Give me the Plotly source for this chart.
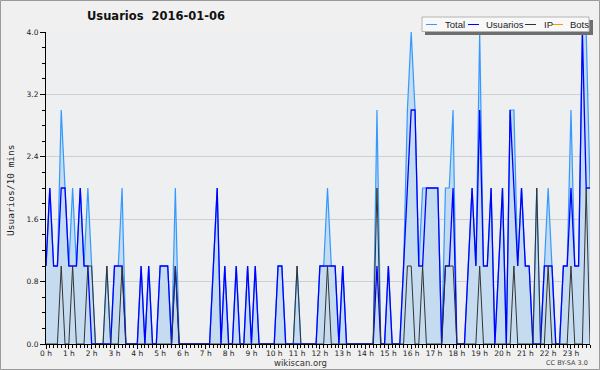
import plotly.graph_objects as go

# 10-minute slots, 2016-01-06 (144 slots)
usuarios = [1,2,1,1,2,2,1,1,1,2,1,1,0,0,0,0,0,0,1,1,1,0,0,0,
            0,1,0,1,0,0,1,1,1,0,1,0,0,0,0,0,0,0,0,0,1,2,0,1,
            0,0,1,0,0,1,0,1,0,0,0,0,0,1,1,0,0,0,0,0,0,0,0,0,
            1,1,1,1,1,0,1,0,0,0,0,0,0,0,0,1,0,0,1,0,0,0,1,2,
            3,3,1,1,2,2,2,2,0,1,1,2,0,0,0,1,2,1,3,1,1,2,0,1,
            2,0,3,2,1,2,1,1,0,0,0,1,1,1,0,0,1,1,2,1,1,4,2,2]
ip =       [0,0,0,0,1,0,0,1,0,0,0,1,1,0,0,0,1,0,0,0,1,0,0,0,
            0,0,0,0,0,0,0,0,0,0,1,0,0,0,0,0,0,0,0,0,0,0,0,0,
            0,0,0,0,0,0,0,0,0,0,0,0,0,0,0,0,0,0,1,0,0,0,0,0,
            0,0,1,0,0,0,0,0,0,0,0,0,0,0,0,2,0,0,0,0,0,0,0,1,
            1,0,0,1,0,0,0,0,0,1,1,1,0,0,0,0,0,0,1,0,0,0,0,0,
            0,0,0,1,0,0,0,0,0,2,0,0,1,0,0,0,0,0,1,0,0,0,2,0]
bots = [0]*144
total = [u + p + b for u, p, b in zip(usuarios, ip, bots)]
slot_hours = [i / 6 for i in range(144)]
hour_ticks = list(range(24))
hour_labels = [f"{h} h" for h in hour_ticks]
y_ticks = [0.0, 0.8, 1.6, 2.4, 3.2, 4.0]
y_labels = ["0.0", "0.8", "1.6", "2.4", "3.2", "4.0"]

W, H = 600, 370
L, R, T, B = 46, 10, 32, 26
PW, PH = W - L - R, H - T - B

def px(x):
    return (x - L) / PW

def py(y):
    return (H - B - y) / PH

fig = go.Figure()
fig.add_trace(go.Scatter(x=slot_hours, y=bots, mode="lines", name="Bots",
                         line=dict(color="#ff9900", width=1), showlegend=False))
fig.add_trace(go.Scatter(x=slot_hours, y=total, mode="lines", name="Total",
                         fill="tozeroy", fillcolor="#c5dcf0",
                         line=dict(color="#3399ff", width=1.2), showlegend=False))
fig.add_trace(go.Scatter(x=slot_hours, y=usuarios, mode="lines", name="Usuarios",
                         line=dict(color="#0000ff", width=1.3), showlegend=False))
fig.add_trace(go.Scatter(x=slot_hours, y=ip, mode="lines", name="IP",
                         line=dict(color="#333333", width=1), showlegend=False))

shapes = []
# outer frame
shapes.append(dict(type="rect", xref="paper", yref="paper",
                   x0=px(0.5), x1=px(599.5), y0=py(0.5), y1=py(369.5),
                   line=dict(color="#9a9a9a", width=1), layer="above"))
# legend shadow and box
shapes.append(dict(type="rect", xref="paper", yref="paper",
                   x0=px(425), x1=px(593), y0=py(20), y1=py(35),
                   fillcolor="#6e6e6e", line=dict(width=0), layer="above"))
shapes.append(dict(type="rect", xref="paper", yref="paper",
                   x0=px(422), x1=px(589), y0=py(17), y1=py(31.5),
                   fillcolor="#f8f8f8", line=dict(color="#b4b4b4", width=1), layer="above"))
annotations = []
legend_items = [("Total", "#3399ff", 426, 443), ("Usuarios", "#0000ff", 468, 484),
                ("IP", "#333333", 525, 542), ("Bots", "#ff9900", 552, 568)]
for name, col, lx, tx in legend_items:
    shapes.append(dict(type="line", xref="paper", yref="paper",
                       x0=px(lx), x1=px(lx + 11), y0=py(24.5), y1=py(24.5),
                       line=dict(color=col, width=1), layer="above"))
    annotations.append(dict(text=name, xref="paper", yref="paper", x=px(tx), y=py(24.5),
                            xanchor="left", yanchor="middle", showarrow=False,
                            font=dict(family="Liberation Sans, Arial", size=9.5, color="#222")))

annotations.append(dict(text="<b>Usuarios  2016-01-06</b>", xref="paper", yref="paper",
                        x=px(85), y=py(16), xanchor="left", yanchor="middle", showarrow=False,
                        font=dict(family="DejaVu Sans", size=11.5, color="#111")))
annotations.append(dict(text="Usuarios/10 mins", xref="paper", yref="paper",
                        x=px(10), y=py(190), xanchor="center", yanchor="middle", textangle=-90,
                        showarrow=False, font=dict(family="DejaVu Sans Mono", size=9.5, color="#222")))
annotations.append(dict(text="wikiscan.org", xref="paper", yref="paper",
                        x=px(300), y=py(363), xanchor="center", yanchor="middle", showarrow=False,
                        font=dict(family="DejaVu Sans", size=8.5, color="#333")))
annotations.append(dict(text="CC BY-SA 3.0", xref="paper", yref="paper",
                        x=px(590), y=py(363), xanchor="right", yanchor="middle", showarrow=False,
                        font=dict(family="DejaVu Sans", size=6.5, color="#444")))

fig.update_layout(
    width=W, height=H,
    margin=dict(l=L, r=R, t=T, b=B),
    paper_bgcolor="#f0f0f0", plot_bgcolor="#eeeff0",
    showlegend=False,
    shapes=shapes, annotations=annotations,
    xaxis=dict(range=[0, 143 / 6], tickmode="array", tickvals=hour_ticks, ticktext=hour_labels,
               ticks="outside", ticklen=4, tickcolor="#000", showgrid=False, zeroline=False,
               showline=True, linecolor="#000", linewidth=1, ticklabelstandoff=-2,
               minor=dict(dtick=1 / 6, ticks="outside", ticklen=3, tickcolor="#000", showgrid=False),
               tickfont=dict(family="DejaVu Sans", size=7.5, color="#222")),
    yaxis=dict(range=[0, 4], tickmode="array", tickvals=y_ticks, ticktext=y_labels,
               ticks="outside", ticklen=5, tickcolor="#000", showgrid=True, gridcolor="#cfcfcf",
               gridwidth=1, zeroline=False, showline=True, linecolor="#000", linewidth=1,
               minor=dict(dtick=0.2, ticks="outside", ticklen=3, tickcolor="#000", showgrid=False),
               tickfont=dict(family="DejaVu Sans", size=7.5, color="#222")),
)
fig.write_html("out.html", config={"displayModeBar": False},
               post_script="document.body.style.margin='0';document.body.style.overflow='hidden';")
